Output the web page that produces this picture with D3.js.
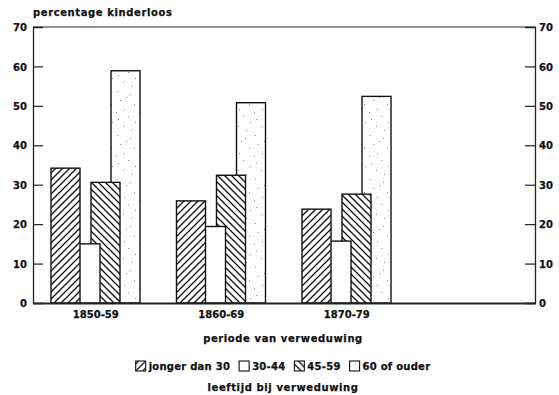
<!DOCTYPE html>
<html>
<head>
<meta charset="utf-8">
<script src="https://cdn.jsdelivr.net/npm/d3@7"></script>
<style>
  html, body { margin: 0; padding: 0; background: #fff; }
  svg text { font-family: "DejaVu Sans", sans-serif; font-weight: bold; font-size: 10px; fill: #111; stroke: #111; stroke-width: 0.25px; }
  svg text.words { letter-spacing: 0.6px; }
</style>
</head>
<body>
<svg id="chart" width="559" height="395"></svg>
<script>
// Periods of widowhood (the fourth slot is left empty on the axis)
const periods = ["1850-59", "1860-69", "1870-79", ""];
// Age at widowhood
const ageGroups = ["jonger dan 30", "30-44", "45-59", "60 of ouder"];
// Percentage childless per age group, one value per period
const jongerDan30 = [34.2, 25.9, 23.8];
const leeftijd3044 = [15.0, 19.4, 15.7];
const leeftijd4559 = [30.6, 32.4, 27.6];
const zestigPlus = [58.9, 50.8, 52.4];
const yTicks = [0, 10, 20, 30, 40, 50, 60, 70];

const seriesValues = [jongerDan30, leeftijd3044, leeftijd4559, zestigPlus];
const fills = ["url(#hatchFwd)", "#fff", "url(#hatchBack)", "url(#stipple)"];

const svg = d3.select("#chart");
const plot = { left: 33, right: 535, top: 27, bottom: 303 };

const x = d3.scaleBand().domain(periods).range([plot.left, plot.right]).padding(0);
const y = d3.scaleLinear().domain([0, 70]).range([plot.bottom, plot.top]);
// overlapping bars inside each period slot
const offset = d3.scaleLinear().domain([0, 3]).range([18, 78]);
const barW = 29;

// patterns
const defs = svg.append("defs");
const fwd = defs.append("pattern").attr("id", "hatchFwd")
  .attr("patternUnits", "userSpaceOnUse").attr("width", 7).attr("height", 7);
fwd.append("rect").attr("width", 7).attr("height", 7).attr("fill", "#fff");
fwd.append("path").attr("d", "M-1,8 L8,-1 M-2,2 L2,-2 M5,9 L9,5")
  .attr("stroke", "#111").attr("stroke-width", 1.3);

const back = defs.append("pattern").attr("id", "hatchBack")
  .attr("patternUnits", "userSpaceOnUse").attr("width", 7).attr("height", 7);
back.append("rect").attr("width", 7).attr("height", 7).attr("fill", "#fff");
back.append("path").attr("d", "M-1,-1 L8,8 M-2,5 L2,9 M5,-2 L9,2")
  .attr("stroke", "#111").attr("stroke-width", 1.3);

// sparse speckle texture for the oldest group
const dots = [[2,3],[15,6],[5,12],[19,16],[9,21],[13,28],[3,31],[20,34],[8,38],[16,42],[11,9],[1,24]];
const stip = defs.append("pattern").attr("id", "stipple")
  .attr("patternUnits", "userSpaceOnUse").attr("width", 23).attr("height", 44);
stip.append("rect").attr("width", 23).attr("height", 44).attr("fill", "#fff");
stip.selectAll("rect.d").data(dots).join("rect").attr("class", "d")
  .attr("x", d => d[0]).attr("y", d => d[1]).attr("width", 1).attr("height", 1)
  .attr("fill", "#888");

// bars: draw last age group first so earlier ones overlap on top
const groups = svg.append("g");
periods.slice(0, 3).forEach((p, pi) => {
  const g = groups.append("g");
  for (let s = ageGroups.length - 1; s >= 0; s--) {
    const v = seriesValues[s][pi];
    g.append("rect")
      .attr("x", x(p) + offset(s))
      .attr("y", y(v))
      .attr("width", barW)
      .attr("height", y(0) - y(v))
      .attr("fill", fills[s])
      .attr("stroke", "#111")
      .attr("stroke-width", 1.4);
  }
});

// frame and axes
svg.append("line").attr("x1", plot.left).attr("x2", plot.right)
  .attr("y1", plot.top).attr("y2", plot.top)
  .attr("stroke", "#222").attr("stroke-width", 1.2);
const yl = svg.append("g").attr("transform", `translate(${plot.left},0)`)
  .call(d3.axisLeft(y).tickValues(yTicks).tickSize(-10).tickPadding(6));
const yr = svg.append("g").attr("transform", `translate(${plot.right},0)`)
  .call(d3.axisRight(y).tickValues(yTicks).tickSize(-10).tickPadding(4));
[yl, yr].forEach(a => {
  a.attr("font-family", null).attr("font-size", null);
  a.select(".domain").attr("stroke", "#222").attr("stroke-width", 1.3);
  a.selectAll(".tick line").attr("stroke", "#222").attr("stroke-width", 1.2)
    .filter(d => d === 0 || d === 70).remove();
  a.selectAll(".tick text").attr("dy", "0.36em");
});
const xa = svg.append("g").attr("transform", `translate(0,${plot.bottom})`)
  .call(d3.axisBottom(x).tickSize(0).tickPadding(8));
xa.attr("font-family", null).attr("font-size", null);
xa.select(".domain").attr("stroke", "#222").attr("stroke-width", 2);

// titles
svg.append("text").attr("class", "words").attr("x", plot.left).attr("y", 16)
  .text("percentage kinderloos");
svg.append("text").attr("class", "words").attr("x", 283).attr("y", 342)
  .attr("text-anchor", "middle").text("periode van verweduwing");
svg.append("text").attr("class", "words").attr("x", 283).attr("y", 391)
  .attr("text-anchor", "middle").text("leeftijd bij verweduwing");

// legend
const legend = svg.append("g");
let cx = 0;
const legendY = 370;
ageGroups.forEach((name, i) => {
  const item = legend.append("g").attr("transform", `translate(${cx},0)`);
  item.append("rect").attr("x", 0).attr("y", legendY - 9).attr("width", 10).attr("height", 10)
    .attr("fill", fills[i]).attr("stroke", "#111").attr("stroke-width", 1.1);
  const t = item.append("text").attr("x", 13).attr("y", legendY)
    .style("letter-spacing", "0.25px").text(name);
  cx += 13 + t.node().getComputedTextLength() + 9;
});
const total = cx - 9;
legend.attr("transform", `translate(${283 - total / 2},0)`);
</script>
</body>
</html>
